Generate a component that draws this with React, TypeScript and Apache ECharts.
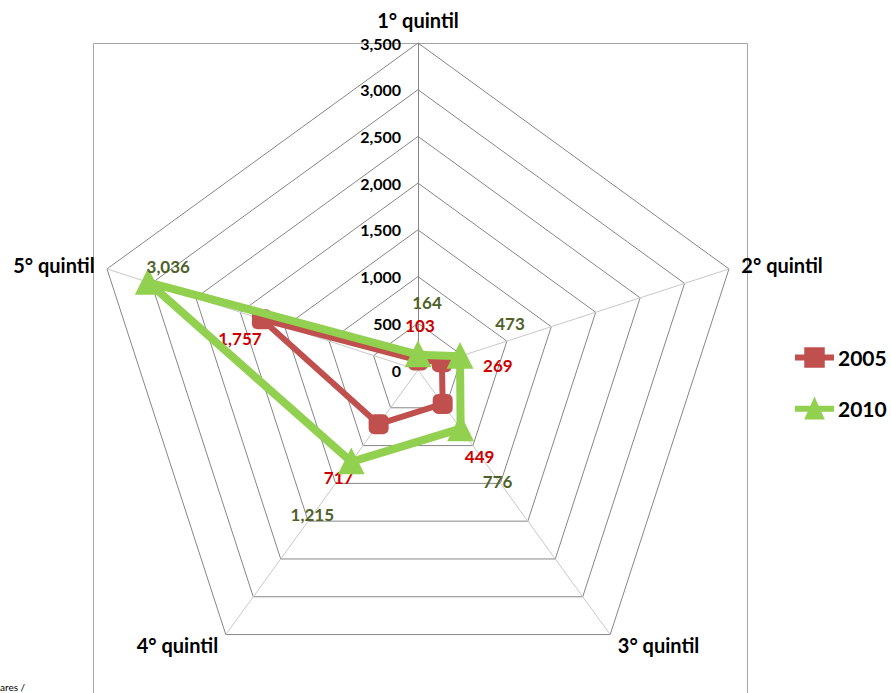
import React, { useEffect, useRef } from "react";
import * as echarts from "echarts";

const indicatorNames = ["1° quintil", "2° quintil", "3° quintil", "4° quintil", "5° quintil"];
const axisMax = 3500;
const axisSplits = 7;
const seriesNames = ["2005", "2010"];
const values2005 = [103, 269, 449, 717, 1757];
const values2010 = [164, 473, 776, 1215, 3036];

// label offsets (style only) for each vertex, per series, in indicator order
const labelOffsets2005 = [[2, -35], [56, 3], [37, 53], [-40, 53], [-22, 19]];
const labelOffsets2010 = [[9, -52], [50, -33], [37, 53], [-39, 53], [20, -16]];

// ECharts lays indicators counter-clockwise; this order makes them run clockwise
const drawOrder = [0, 4, 3, 2, 1];

const FONT = "Lato, 'Open Sans', sans-serif";
const fmt = (v: number) => Number(v).toLocaleString("en-US");

export default function App() {
  const ref = useRef<HTMLDivElement>(null);
  useEffect(() => {
    if (!ref.current) return;
    const chart = echarts.init(ref.current, undefined, { renderer: "svg" });
    const allValues = [values2005, values2010];
    const allOffsets = [labelOffsets2005, labelOffsets2010];
    const reorder = (arr: any[]) => drawOrder.map((i) => arr[i]);
    const makeLabelLayout = (s: number) => (p: any) => {
      const idx = allValues[s].findIndex((v) => fmt(v) === p.text);
      const o = allOffsets[s][idx] || [0, 0];
      return { dx: o[0], dy: o[1] };
    };
    const option: any = {
      animation: false,
      backgroundColor: "#ffffff",
      graphic: [
        {
          type: "rect",
          silent: true,
          z: -10,
          shape: { x: 93.5, y: 43.5, width: 654, height: 700 },
          style: { fill: "none", stroke: "#a6a6a6", lineWidth: 1 },
        },
        {
          type: "text",
          left: 0,
          top: 682,
          style: { text: "ares /", fontSize: 10, fontFamily: FONT, fill: "#000" },
        },
      ],
      legend: {
        orient: "vertical",
        left: 795,
        top: 347,
        padding: 0,
        itemWidth: 37,
        itemHeight: 20,
        itemGap: 30,
        textStyle: { fontFamily: FONT, fontWeight: "bold", fontSize: 21, color: "#000" },
        data: [
          { name: seriesNames[0], icon: "path://M0,8H9.5V0.5H28.5V8H38V12H28.5V19.5H9.5V12H0Z" },
          { name: seriesNames[1], icon: "path://M0,8H15.4L19,0L22.6,8H38V12H24.4L28,20H10L13.6,12H0Z" },
        ],
      },
      radar: {
        center: [418, 370],
        radius: 327,
        startAngle: 90,
        splitNumber: axisSplits,
        shape: "polygon",
        nameGap: 13,
        axisName: { color: "#000", fontFamily: FONT, fontWeight: "bold", fontSize: 20 },
        splitArea: { show: false },
        splitLine: { lineStyle: { color: "#868686", width: 1 } },
        axisLine: { lineStyle: { color: "#c8c8c8", width: 1 } },
        axisTick: { show: false },
        axisLabel: {
          show: false,
          margin: 17,
          color: "#000",
          fontFamily: FONT,
          fontWeight: "bold",
          fontSize: 16,
          formatter: (v: number) => fmt(v),
        },
        indicator: reorder(
          indicatorNames.map((n, i) =>
            i === 0
              ? {
                  name: n,
                  min: 0,
                  max: axisMax,
                  axisLabel: { show: true },
                  axisLine: { lineStyle: { color: "#868686" } },
                }
              : { name: n, min: 0, max: axisMax }
          )
        ),
      },
      series: [
        {
          type: "radar",
          name: seriesNames[0],
          z: 2,
          symbol: "roundRect",
          symbolSize: 18,
          lineStyle: { color: "#C0504D", width: 6 },
          itemStyle: { color: "#C0504D", borderColor: "#C0504D", borderWidth: 2 },
          label: {
            show: true,
            position: "inside",
            color: "#CC0000",
            fontFamily: FONT,
            fontWeight: "bold",
            fontSize: 17,
            formatter: (p: any) => fmt(p.value),
          },
          labelLayout: makeLabelLayout(0),
          data: [{ name: seriesNames[0], value: reorder(values2005) }],
        },
        {
          type: "radar",
          name: seriesNames[1],
          z: 3,
          symbol: "triangle",
          symbolSize: 22,
          lineStyle: { color: "#92D050", width: 8 },
          itemStyle: { color: "#92D050", borderColor: "#92D050", borderWidth: 3 },
          label: {
            show: true,
            position: "inside",
            color: "#4F6228",
            fontFamily: FONT,
            fontWeight: "bold",
            fontSize: 17,
            formatter: (p: any) => fmt(p.value),
          },
          labelLayout: makeLabelLayout(1),
          data: [{ name: seriesNames[1], value: reorder(values2010) }],
        },
      ],
    };
    chart.setOption(option);
    return () => chart.dispose();
  }, []);
  return (
    <div
      ref={ref}
      style={{ position: "fixed", left: 0, top: 0, width: 891, height: 693, background: "#fff" }}
    />
  );
}
